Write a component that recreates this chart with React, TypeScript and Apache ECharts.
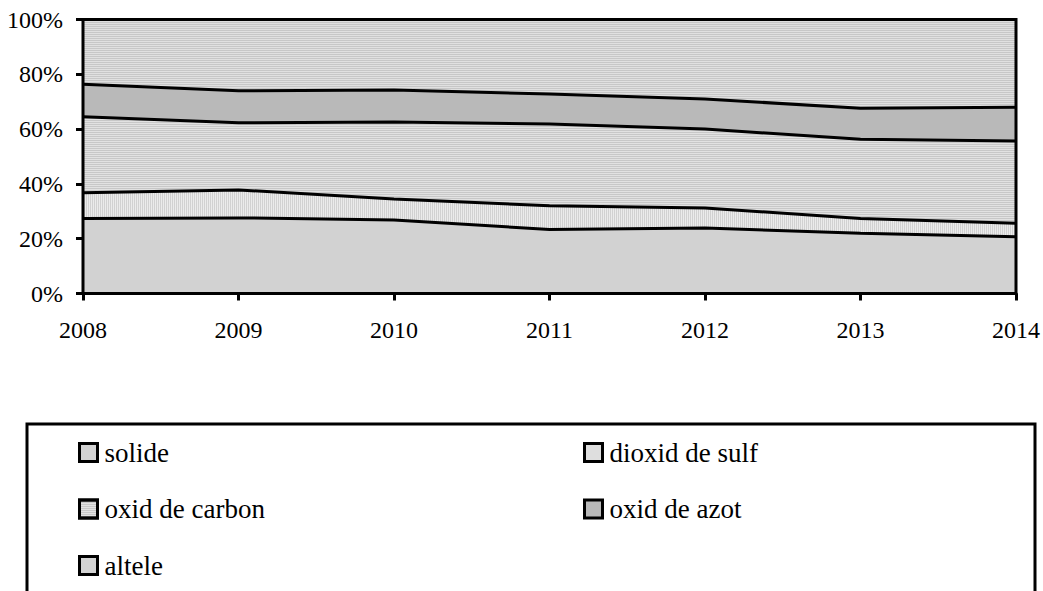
import React, { useEffect, useRef } from "react";
import * as echarts from "echarts";

const years = ["2008", "2009", "2010", "2011", "2012", "2013", "2014"];
const solide = [27.4, 27.6, 26.8, 23.4, 23.9, 22.0, 20.7];
const dioxidDeSulf = [9.4, 10.2, 7.7, 8.6, 7.3, 5.4, 4.9];
const oxidDeCarbon = [27.7, 24.5, 28.1, 29.9, 28.8, 28.9, 30.1];
const oxidDeAzot = [11.9, 11.7, 11.7, 10.9, 11.0, 11.3, 12.3];
const altele = [23.6, 26.0, 25.7, 27.2, 29.0, 32.4, 32.0];

const FONT = "Liberation Serif, Times New Roman, serif";

export default function App() {
  const ref = useRef<HTMLDivElement>(null);
  useEffect(() => {
    document.body.style.margin = "0";
    const chart = echarts.init(ref.current!, undefined, { renderer: "svg" });
    const mk = (name: string, data: number[], color: string, decal: any) => ({
      name,
      type: "line",
      stack: "total",
      data,
      symbol: "none",
      lineStyle: { color: "#000", width: 3 },
      itemStyle: { color, borderColor: "#000", borderWidth: 2, decal },
      areaStyle: { color, opacity: 1 },
      z: 2,
    });
    const hLines = (c: string) => ({ symbol: "rect", symbolSize: 1, color: c, dashArrayX: [1, 0], dashArrayY: [1, 1], rotation: 0 });
    const vLines = (c: string) => ({ symbol: "rect", symbolSize: 1, color: c, dashArrayX: [1, 1], dashArrayY: [1, 0], rotation: 0 });
    const legendCommon = {
      orient: "vertical",
      top: 439,
      padding: 0,
      itemGap: 29.5,
      itemWidth: 18,
      itemHeight: 18,
      icon: "rect",
      itemStyle: { borderColor: "#000", borderWidth: 3 },
      textStyle: { color: "#000", fontFamily: FONT, fontSize: 27, lineHeight: 27, padding: [0, 0, 0, 2] },
    };
    chart.setOption({
      animation: false,
      textStyle: { fontFamily: FONT },
      grid: { left: 83, right: 27, top: 19.5, bottom: 297.5, show: true, borderColor: "#000", borderWidth: 3, z: 5 },
      xAxis: {
        type: "category",
        data: years,
        boundaryGap: false,
        axisLine: { lineStyle: { color: "#000", width: 3 } },
        axisTick: { show: true, length: 7, lineStyle: { color: "#000", width: 3 } },
        axisLabel: { color: "#000", fontFamily: FONT, fontSize: 24, margin: 24 },
        splitLine: { show: false },
      },
      yAxis: {
        type: "value",
        min: 0,
        max: 100,
        interval: 20,
        axisLine: { show: true, lineStyle: { color: "#000", width: 3 } },
        axisTick: { show: true, length: 7, lineStyle: { color: "#000", width: 3 } },
        axisLabel: { color: "#000", fontFamily: FONT, fontSize: 24, margin: 20, formatter: "{value}%" },
        splitLine: { show: false },
      },
      legend: [
        { ...legendCommon, data: ["solide", "oxid de carbon", "altele"], left: 78 },
        { ...legendCommon, data: ["dioxid de sulf", "oxid de azot"], left: 583 },
      ],
      graphic: [
        {
          type: "rect",
          shape: { x: 27, y: 424, width: 1008, height: 220 },
          style: { fill: "none", stroke: "#000", lineWidth: 3 },
          silent: true,
        },
      ],
      series: [
        mk("solide", solide, "#d2d2d2", null),
        mk("dioxid de sulf", dioxidDeSulf, "#ebebeb", vLines("rgba(160,160,160,0.35)")),
        mk("oxid de carbon", oxidDeCarbon, "#e2e2e2", hLines("rgba(150,150,150,0.35)")),
        mk("oxid de azot", oxidDeAzot, "#b9b9b9", null),
        mk("altele", altele, "#e0e0e0", hLines("rgba(150,150,150,0.35)")),
      ],
    });
    return () => chart.dispose();
  }, []);
  return <div ref={ref} style={{ width: 1043, height: 591, position: "absolute", left: 0, top: 0 }} />;
}
